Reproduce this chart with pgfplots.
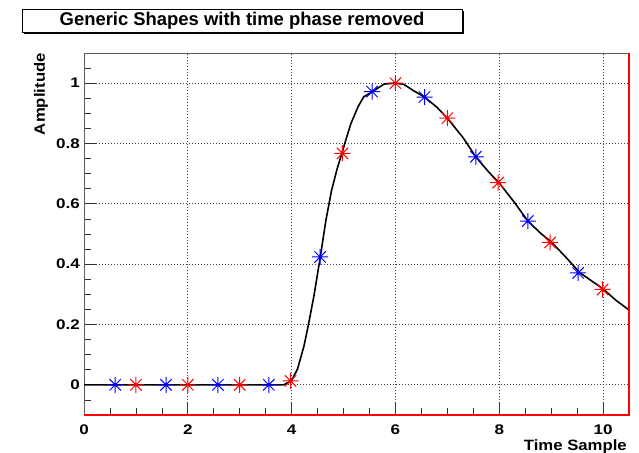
\documentclass[border=0pt]{standalone}
\usepackage{fontspec}
\setmainfont{Liberation Sans}
\newfontfamily\tickfont[FakeStretch=1.22]{Liberation Sans}
\newfontfamily\labfont[FakeStretch=1.12]{Liberation Sans}
\usepackage{pgfplots}
\pgfplotsset{compat=1.18}

\pgfdeclareplotmark{rootstar}{%
  \pgfpathmoveto{\pgfqpoint{-\pgfplotmarksize}{0pt}}\pgfpathlineto{\pgfqpoint{\pgfplotmarksize}{0pt}}%
  \pgfpathmoveto{\pgfqpoint{0pt}{-\pgfplotmarksize}}\pgfpathlineto{\pgfqpoint{0pt}{\pgfplotmarksize}}%
  \pgfpathmoveto{\pgfqpoint{-.707\pgfplotmarksize}{-.707\pgfplotmarksize}}\pgfpathlineto{\pgfqpoint{.707\pgfplotmarksize}{.707\pgfplotmarksize}}%
  \pgfpathmoveto{\pgfqpoint{-.707\pgfplotmarksize}{.707\pgfplotmarksize}}\pgfpathlineto{\pgfqpoint{.707\pgfplotmarksize}{-.707\pgfplotmarksize}}%
  \pgfusepathqstroke}

\begin{document}
\begin{tikzpicture}[x=1bp,y=1bp]
\useasboundingbox (0,0) rectangle (639,453);
% title box
\fill[black] (24,419) rectangle (464,442);
\draw[black, line width=0.9bp, fill=white] (22,421) rectangle (462,444);
\node[font=\fontsize{18.5}{20}\selectfont\bfseries, inner sep=0pt] at (242,432.5) {Generic Shapes with time phase removed};
\begin{axis}[
  at={(84bp,38bp)}, anchor=south west,
  scale only axis, width=545bp, height=362bp,
  xmin=0, xmax=10.5, ymin=-0.1, ymax=1.1,
  xtick={0,2,4,6,8,10},
  ytick={0,0.2,0.4,0.6,0.8,1},
  minor xtick={0.5,1,1.5,2.5,3,3.5,4.5,5,5.5,6.5,7,7.5,8.5,9,9.5},
  minor ytick={-0.05,0.05,0.1,0.15,0.25,0.3,0.35,0.45,0.5,0.55,0.65,0.7,0.75,0.85,0.9,0.95,1.05},
  xtick pos=bottom, ytick pos=left,
  tick align=inside,
  major tick length=13bp, minor tick length=6.5bp,
  every tick/.style={black!80, line width=0.7bp},
  grid=major,
  major grid style={black!75, line width=0.8bp, dash pattern=on 1bp off 2bp},
  axis line style={black!65, line width=0.9bp},
  /pgf/number format/assume math mode=true,
  xticklabel style={font=\tickfont\fontsize{14}{16}\selectfont\bfseries, inner sep=0pt, anchor=north, yshift=-10bp},
  yticklabel style={font=\tickfont\fontsize{14}{16}\selectfont\bfseries, inner sep=0pt, anchor=east, xshift=-4bp},
  xlabel={Time Sample},
  ylabel={Amplitude},
  xlabel style={font=\labfont\fontsize{15}{17}\selectfont\bfseries, inner sep=0pt, at={(axis description cs:1,0)}, anchor=north east, yshift=-24bp, xshift=-2bp},
  ylabel style={font=\labfont\fontsize{15}{17}\selectfont\bfseries, inner sep=0pt, at={(axis description cs:-0.079,1)}, anchor=east, rotate=0},
  clip=false,
]
\addplot[black, line width=1.6bp, no markers] coordinates {
(0,0) (3.85,0) (4.0,0.014) (4.115,0.053) (4.24,0.13) (4.32,0.196) (4.43,0.295) (4.55,0.421) (4.66,0.545) (4.77,0.645) (4.88,0.718) (4.97,0.768) (5.05,0.815) (5.14,0.865) (5.28,0.922) (5.39,0.955) (5.55,0.971) (5.78,0.997) (6.0,1.0) (6.16,0.996) (6.35,0.975) (6.56,0.954) (6.8,0.92) (7.0,0.884) (7.3,0.82) (7.55,0.755) (7.8,0.705) (8.0,0.669) (8.3,0.603) (8.55,0.543) (8.8,0.502) (9.0,0.474) (9.3,0.42) (9.55,0.372) (9.8,0.342) (10.0,0.318) (10.25,0.28) (10.5,0.248)
};
\addplot[only marks, mark=rootstar, mark size=8bp, blue, line width=1bp] coordinates {
(0.6,0) (1.58,0) (2.58,0) (3.56,0) (4.55,0.424) (5.55,0.972) (6.56,0.954) (7.55,0.756) (8.55,0.543) (9.52,0.371)
};
\addplot[only marks, mark=rootstar, mark size=8bp, red, line width=1bp] coordinates {
(1,0) (2,0) (3,0) (3.98,0.013) (4.98,0.767) (6,1.0) (7,0.884) (7.98,0.670) (8.98,0.472) (9.99,0.316)
};
\draw[red, line width=1.3bp] (rel axis cs:0,0) -- (rel axis cs:1,0) -- (rel axis cs:1,1);
\end{axis}
\end{tikzpicture}
\end{document}
